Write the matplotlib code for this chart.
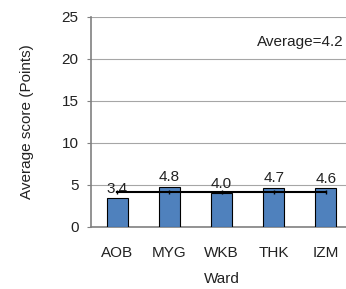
import matplotlib.pyplot as plt

plt.rcParams['font.family'] = ['Liberation Sans', 'DejaVu Sans']

wards = ['AOB', 'MYG', 'WKB', 'THK', 'IZM']
scores = [3.4, 4.8, 4.0, 4.7, 4.6]
average = 4.2
y_ticks = [0, 5, 10, 15, 20, 25]

fig = plt.figure(figsize=(3.46, 2.89), dpi=100)
# axes run a little past the right edge, like the cropped original
ax = fig.add_axes([91 / 346, 1 - 227 / 289, 261 / 346, 210 / 289])

x = list(range(len(wards)))
ax.bar(x, scores, width=0.4, color='#4F81BD', edgecolor='black', linewidth=0.8, zorder=3)
ax.plot(x, [average] * len(x), color='black', linewidth=1.5, marker='|', markersize=3, zorder=4)

for xi, s in zip(x, scores):
    ax.annotate(f'{s:.1f}', (xi, s), xytext=(0, 2), textcoords='offset points',
                ha='center', va='bottom', fontsize=11, color='#222222')

ax.text(0.966, 0.88, f'Average={average}', transform=ax.transAxes,
        ha='right', va='center', fontsize=11, color='#222222')

ax.set_xlim(-0.5, len(wards) - 0.5)
ax.set_ylim(0, 25)
ax.set_yticks(y_ticks)
ax.set_xticks(x)
ax.set_xticklabels(wards)
ax.grid(axis='y', color='#A6A6A6', linewidth=0.8, zorder=0)
ax.tick_params(axis='both', labelsize=11, colors='#222222')
ax.tick_params(axis='x', length=0, pad=14)
ax.tick_params(axis='y', length=3, color='#808080', pad=6)
for side in ['top', 'right']:
    ax.spines[side].set_visible(False)
for side in ['left', 'bottom']:
    ax.spines[side].set_color('#808080')
    ax.spines[side].set_linewidth(1.2)

ax.set_xlabel('Ward', fontsize=11, color='#222222', labelpad=8)
ax.set_ylabel('Average score (Points)', fontsize=11, color='#222222', labelpad=20)

fig.savefig('out.png', dpi=100)
